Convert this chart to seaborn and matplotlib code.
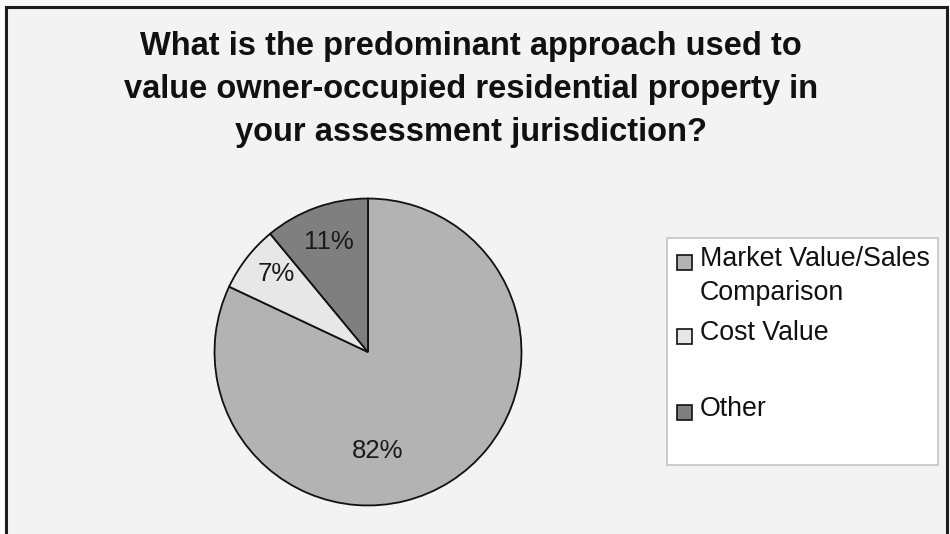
import matplotlib
matplotlib.use("Agg")
import matplotlib.pyplot as plt
from matplotlib.patches import Rectangle
import seaborn as sns

# Survey responses (percent of jurisdictions)
categories = ["Market Value/Sales\nComparison", "Cost Value", "Other"]
shares = [82, 7, 11]
slice_colors = ["#b3b3b3", "#e7e7e7", "#7f7f7f"]
title = ("What is the predominant approach used to\n"
         "value owner-occupied residential property in\n"
         "your assessment jurisdiction?")

sns.set_theme(style="white")
plt.rcParams["font.family"] = ["Liberation Sans", "DejaVu Sans"]

W, H = 950, 534
fig = plt.figure(figsize=(W / 100, H / 100), dpi=100, facecolor="#fbfbfb")


def fx(px):
    return px / W


def fy(py):
    return 1 - py / H


# Chart panel with dark frame
fig.patches.append(Rectangle((fx(6), fy(540)), fx(947) - fx(6), fy(7) - fy(540),
                             transform=fig.transFigure, facecolor="#f3f3f3",
                             edgecolor="#1c1c1c", linewidth=2.2, zorder=0))

fig.text(fx(471), fy(31), title, ha="center", va="top", fontsize=23.5,
         fontweight="bold", linespacing=1.5, color="#111111", zorder=3)

# Pie
cx, cy, r = 368, 352, 155
ax = fig.add_axes([fx(cx - r), fy(cy + r), fx(2 * r), (2 * r) / H])
ax.set_zorder(2)
ax.set_facecolor("none")
wedges, texts, autotexts = ax.pie(
    shares, colors=slice_colors, startangle=90, counterclock=False,
    autopct=lambda p: f"{p:.0f}%", pctdistance=0.76,
    wedgeprops=dict(edgecolor="#111111", linewidth=1.3),
    textprops=dict(fontsize=18.5, color="#1a1a1a"))
ax.set_xlim(-1.01, 1.01)
ax.set_ylim(-1.01, 1.01)
ax.set_aspect("equal")
# the large slice's label sits just below the centre
autotexts[0].set_position((0.06, -0.645))
# nudge the small slice's label toward the rim
x7, y7 = autotexts[1].get_position()
autotexts[1].set_position((x7 + 0.005, y7 + 0.04))

# Legend box
fig.patches.append(Rectangle((fx(667), fy(465)), fx(938) - fx(667), fy(238) - fy(465),
                             transform=fig.transFigure, facecolor="white",
                             edgecolor="#c4c4c4", linewidth=1.2, zorder=1))
entry_y = [262, 336, 412]
for wedge, label, yy in zip(wedges, categories, entry_y):
    fig.patches.append(Rectangle((fx(676.5), fy(yy + 7.5)), fx(15), 15 / H,
                                 transform=fig.transFigure,
                                 facecolor=wedge.get_facecolor(),
                                 edgecolor="#111111", linewidth=1.2, zorder=2))
    fig.text(fx(700), fy(yy - 16), label, ha="left", va="top", fontsize=19.3,
             linespacing=1.42, color="#111111", zorder=3)

fig.savefig("out.png", dpi=100, facecolor=fig.get_facecolor())
